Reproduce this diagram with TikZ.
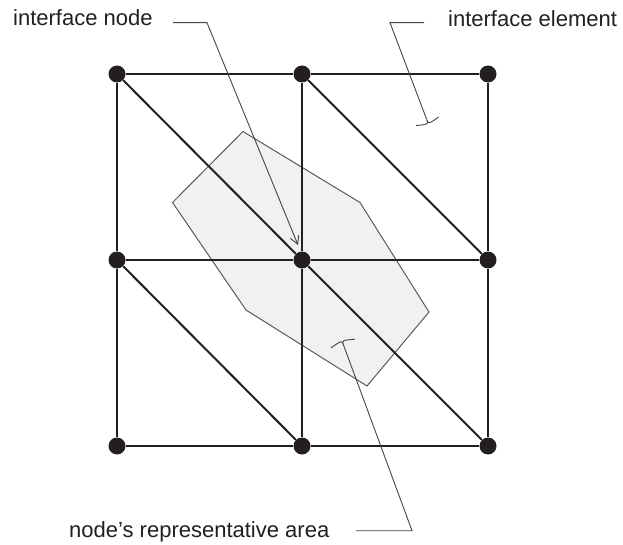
\documentclass[tikz,border=0pt]{standalone}
\usepackage{fontspec}
\setmainfont{Liberation Sans}
\usetikzlibrary{arrows.meta}
\definecolor{ink}{HTML}{231F20}
\definecolor{lead}{HTML}{444444}
\definecolor{areafill}{HTML}{F1F1F1}
\definecolor{areaedge}{HTML}{5A5A5A}
\begin{document}
\begin{tikzpicture}[x=1pt,y=-1pt,
  gridnode/.style={circle,fill=ink,inner sep=0pt,minimum size=17pt},
  gridline/.style={draw=ink,line width=2pt},
  leader/.style={draw=lead,line width=0.9pt},
  lbltext/.style={anchor=base west,inner sep=0pt,font=\fontsize{22}{26}\selectfont,text=ink},
  areapoly/.style={fill=areafill,draw=areaedge,line width=1pt,line join=miter}]
\useasboundingbox (0,0) rectangle (623,545);

% representative area
\path[areapoly] (243,131.5) -- (172.5,202.5) -- (246,310) -- (367,386) -- (429,312) -- (360,202.5) -- cycle;

% grid nodes
\node[gridnode] (n11) at (117,74) {};
\node[gridnode] (n12) at (302,74) {};
\node[gridnode] (n13) at (488,74) {};
\node[gridnode] (n21) at (117,260) {};
\node[gridnode] (n22) at (302,260) {};
\node[gridnode] (n23) at (488,260) {};
\node[gridnode] (n31) at (117,446) {};
\node[gridnode] (n32) at (302,446) {};
\node[gridnode] (n33) at (488,446) {};

% grid lines
\draw[gridline] (n11) -- (n12); \draw[gridline] (n12) -- (n13);
\draw[gridline] (n21) -- (n22); \draw[gridline] (n22) -- (n23);
\draw[gridline] (n31) -- (n32); \draw[gridline] (n32) -- (n33);
\draw[gridline] (n11) -- (n21); \draw[gridline] (n21) -- (n31);
\draw[gridline] (n12) -- (n22); \draw[gridline] (n22) -- (n32);
\draw[gridline] (n13) -- (n23); \draw[gridline] (n23) -- (n33);
% diagonals
\draw[gridline] (n11) -- (n22); \draw[gridline] (n22) -- (n33);
\draw[gridline] (n12) -- (n23);
\draw[gridline] (n21) -- (n32);

% labels
\node[lbltext] (lnode) at (13,26) {interface node};
\node[lbltext] (lelem) at (448,27) {interface element};
\node[lbltext] (larea) at (69,537) {node’s representative area};

% leader: interface node
\coordinate (a1) at (173,22.7);
\coordinate (a2) at (207,22.7);
\coordinate (atip) at (298,245);
\draw[leader,-{Straight Barb[length=8pt,width=9pt]}] (a1) -- (a2) -- (atip);

% leader: interface element
\coordinate (b1) at (424,22.7);
\coordinate (b2) at (390,22.7);
\coordinate (bm) at (426.7,119.5);
\coordinate (bl) at (416.2,125.6);
\coordinate (br) at (438.6,117.1);
\draw[leader] (b1) -- (b2) -- (bm);
\draw[leader] (bl) .. controls (428.5,124.2) .. (bm) .. controls (428.5,124.2) .. (br);

% leader: node's representative area
\coordinate (c1) at (356,530.7);
\coordinate (c2) at (412,530.7);
\coordinate (cm) at (343.5,345);
\coordinate (cl) at (330.8,348.0);
\coordinate (cr) at (355.2,339.2);
\draw[leader] (c1) -- (c2) -- (cm);
\draw[leader] (cl) .. controls (341.8,340.3) .. (cm) .. controls (341.8,340.3) .. (cr);
\end{tikzpicture}
\end{document}
